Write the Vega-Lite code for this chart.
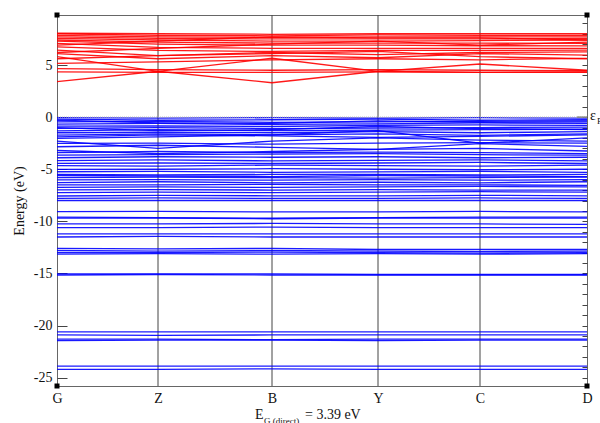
{
  "$schema": "https://vega.github.io/schema/vega-lite/v6.json",
  "width": 530,
  "height": 371,
  "autosize": "none",
  "padding": {"left": 57, "top": 15, "right": 13, "bottom": 37},
  "background": "white",
  "config": {"view": {"stroke": "#666", "strokeWidth": 1}, "font": "Liberation Serif"},
  "resolve": {"axis": {"y": "independent", "x": "independent"}},
  "datasets": {
    "kpath": [
      {"k": "G", "kx": 0}, {"k": "Z", "kx": 101}, {"k": "B", "kx": 215},
      {"k": "Y", "kx": 321}, {"k": "C", "kx": 423}, {"k": "D", "kx": 530}
    ],
    "bands": [
      {"b": "c01", "s": "c", "G": 3.4, "Z": 4.4, "B": 3.3, "Y": 4.4, "C": 4.3, "D": 4.35},
      {"b": "c02", "s": "c", "G": 5.8, "Z": 4.4, "B": 5.65, "Y": 4.4, "C": 5.1, "D": 4.5},
      {"b": "c03", "s": "c", "G": 4.35, "Z": 4.3, "B": 4.3, "Y": 4.35, "C": 4.3, "D": 4.3},
      {"b": "c04", "s": "c", "G": 4.65, "Z": 4.55, "B": 4.5, "Y": 4.55, "C": 4.5, "D": 4.45},
      {"b": "c05", "s": "c", "G": 5.15, "Z": 5.3, "B": 5.5, "Y": 5.6, "C": 5.5, "D": 5.63},
      {"b": "c06", "s": "c", "G": 6.1, "Z": 5.6, "B": 5.9, "Y": 5.7, "C": 6.1, "D": 5.95},
      {"b": "c07", "s": "c", "G": 6.43, "Z": 5.9, "B": 6.2, "Y": 6.0, "C": 6.2, "D": 6.27},
      {"b": "c08", "s": "c", "G": 6.75, "Z": 6.4, "B": 6.3, "Y": 6.4, "C": 6.4, "D": 6.43},
      {"b": "c09", "s": "c", "G": 7.07, "Z": 6.7, "B": 6.6, "Y": 6.6, "C": 6.6, "D": 6.6},
      {"b": "c10", "s": "c", "G": 7.3, "Z": 7.0, "B": 6.9, "Y": 6.9, "C": 6.85, "D": 6.84},
      {"b": "c11", "s": "c", "G": 7.4, "Z": 7.2, "B": 7.1, "Y": 7.1, "C": 7.1, "D": 7.07},
      {"b": "c12", "s": "c", "G": 7.55, "Z": 7.4, "B": 7.3, "Y": 7.3, "C": 7.35, "D": 7.4},
      {"b": "c13", "s": "c", "G": 7.7, "Z": 7.55, "B": 7.5, "Y": 7.5, "C": 7.5, "D": 7.55},
      {"b": "c14", "s": "c", "G": 7.85, "Z": 7.7, "B": 7.65, "Y": 7.7, "C": 7.7, "D": 7.7},
      {"b": "c15", "s": "c", "G": 8.0, "Z": 7.85, "B": 7.8, "Y": 7.9, "C": 7.85, "D": 7.85},
      {"b": "c16", "s": "c", "G": 8.05, "Z": 8.0, "B": 7.95, "Y": 8.0, "C": 8.0, "D": 8.0},
      {"b": "c17", "s": "c", "G": 6.9, "Z": 7.3, "B": 7.7, "Y": 7.6, "C": 7.6, "D": 7.4},
      {"b": "c18", "s": "c", "G": 6.2, "Z": 6.6, "B": 7.0, "Y": 7.3, "C": 6.9, "D": 7.2},
      {"b": "c19", "s": "c", "G": 5.6, "Z": 5.9, "B": 6.1, "Y": 6.3, "C": 5.8, "D": 5.6},
      {"b": "v01", "s": "v", "G": -0.05, "Z": -0.1, "B": -0.05, "Y": -0.1, "C": -0.05, "D": -0.1},
      {"b": "v02", "s": "v", "G": -0.2, "Z": -0.3, "B": -0.25, "Y": -0.2, "C": -0.3, "D": -0.25},
      {"b": "v03", "s": "v", "G": -0.45, "Z": -0.4, "B": -0.5, "Y": -0.45, "C": -0.4, "D": -0.35},
      {"b": "v04", "s": "v", "G": -0.67, "Z": -0.6, "B": -0.7, "Y": -0.65, "C": -0.55, "D": -0.6},
      {"b": "v05", "s": "v", "G": -0.86, "Z": -0.85, "B": -0.9, "Y": -0.8, "C": -0.75, "D": -0.8},
      {"b": "v06", "s": "v", "G": -1.08, "Z": -1.0, "B": -1.1, "Y": -1.05, "C": -1.0, "D": -0.95},
      {"b": "v07", "s": "v", "G": -1.31, "Z": -1.2, "B": -1.3, "Y": -1.25, "C": -1.2, "D": -1.15},
      {"b": "v08", "s": "v", "G": -1.5, "Z": -1.45, "B": -1.5, "Y": -1.4, "C": -1.5, "D": -1.4},
      {"b": "v09", "s": "v", "G": -1.72, "Z": -1.6, "B": -1.7, "Y": -1.6, "C": -1.75, "D": -1.6},
      {"b": "v10", "s": "v", "G": -2.04, "Z": -1.9, "B": -1.7, "Y": -1.3, "C": -2.5, "D": -2.0},
      {"b": "v11", "s": "v", "G": -2.3, "Z": -3.0, "B": -2.3, "Y": -2.0, "C": -2.2, "D": -2.3},
      {"b": "v12", "s": "v", "G": -2.52, "Z": -2.5, "B": -2.6, "Y": -2.5, "C": -2.45, "D": -2.5},
      {"b": "v13", "s": "v", "G": -2.84, "Z": -2.7, "B": -2.9, "Y": -3.1, "C": -2.55, "D": -2.8},
      {"b": "v14", "s": "v", "G": -3.41, "Z": -3.3, "B": -3.4, "Y": -3.35, "C": -3.4, "D": -3.5},
      {"b": "v15", "s": "v", "G": -3.64, "Z": -3.6, "B": -3.55, "Y": -3.5, "C": -3.6, "D": -3.65},
      {"b": "v16", "s": "v", "G": -3.9, "Z": -3.8, "B": -3.85, "Y": -3.8, "C": -3.9, "D": -3.85},
      {"b": "v17", "s": "v", "G": -4.18, "Z": -4.1, "B": -4.2, "Y": -4.15, "C": -4.1, "D": -4.2},
      {"b": "v18", "s": "v", "G": -4.44, "Z": -4.4, "B": -4.45, "Y": -4.4, "C": -4.35, "D": -4.45},
      {"b": "v19", "s": "v", "G": -4.66, "Z": -4.7, "B": -4.6, "Y": -4.65, "C": -4.7, "D": -4.6},
      {"b": "v20", "s": "v", "G": -5.01, "Z": -5.0, "B": -4.95, "Y": -5.0, "C": -5.05, "D": -5.0},
      {"b": "v21", "s": "v", "G": -5.24, "Z": -5.2, "B": -5.3, "Y": -5.25, "C": -5.2, "D": -5.3},
      {"b": "v22", "s": "v", "G": -5.5, "Z": -5.55, "B": -5.5, "Y": -5.5, "C": -5.55, "D": -5.5},
      {"b": "v23", "s": "v", "G": -5.81, "Z": -5.75, "B": -5.8, "Y": -5.85, "C": -5.8, "D": -5.75},
      {"b": "v24", "s": "v", "G": -6.03, "Z": -6.0, "B": -6.05, "Y": -6.0, "C": -6.05, "D": -6.0},
      {"b": "v25", "s": "v", "G": -6.29, "Z": -6.2, "B": -6.3, "Y": -6.25, "C": -6.3, "D": -6.2},
      {"b": "v26", "s": "v", "G": -6.51, "Z": -6.5, "B": -6.45, "Y": -6.5, "C": -6.5, "D": -6.55},
      {"b": "v27", "s": "v", "G": -6.74, "Z": -6.7, "B": -6.75, "Y": -6.7, "C": -6.65, "D": -6.7},
      {"b": "v28", "s": "v", "G": -6.99, "Z": -6.95, "B": -7.0, "Y": -6.95, "C": -7.0, "D": -7.0},
      {"b": "v29", "s": "v", "G": -7.25, "Z": -7.2, "B": -7.25, "Y": -7.2, "C": -7.15, "D": -7.2},
      {"b": "v30", "s": "v", "G": -7.57, "Z": -7.5, "B": -7.55, "Y": -7.55, "C": -7.5, "D": -7.55},
      {"b": "v31", "s": "v", "G": -7.79, "Z": -7.75, "B": -7.8, "Y": -7.8, "C": -7.75, "D": -7.8},
      {"b": "v32", "s": "v", "G": -8.0, "Z": -8.0, "B": -8.0, "Y": -8.0, "C": -8.0, "D": -8.0},
      {"b": "v33", "s": "v", "G": -9.07, "Z": -9.05, "B": -9.1, "Y": -9.1, "C": -9.05, "D": -9.1},
      {"b": "v34", "s": "v", "G": -9.6, "Z": -9.65, "B": -9.7, "Y": -9.65, "C": -9.6, "D": -9.6},
      {"b": "v35", "s": "v", "G": -9.7, "Z": -9.7, "B": -9.75, "Y": -9.7, "C": -9.7, "D": -9.7},
      {"b": "v36", "s": "v", "G": -10.25, "Z": -10.25, "B": -10.2, "Y": -10.25, "C": -10.25, "D": -10.3},
      {"b": "v37", "s": "v", "G": -10.6, "Z": -10.6, "B": -10.55, "Y": -10.6, "C": -10.6, "D": -10.6},
      {"b": "v38", "s": "v", "G": -11.2, "Z": -11.2, "B": -11.2, "Y": -11.2, "C": -11.2, "D": -11.2},
      {"b": "v39", "s": "v", "G": -11.5, "Z": -11.45, "B": -11.5, "Y": -11.5, "C": -11.5, "D": -11.5},
      {"b": "v40", "s": "v", "G": -12.6, "Z": -12.65, "B": -12.6, "Y": -12.7, "C": -12.7, "D": -12.7},
      {"b": "v41", "s": "v", "G": -12.8, "Z": -12.85, "B": -12.8, "Y": -12.85, "C": -12.9, "D": -12.85},
      {"b": "v42", "s": "v", "G": -13.0, "Z": -13.0, "B": -12.95, "Y": -13.0, "C": -13.05, "D": -13.0},
      {"b": "v43", "s": "v", "G": -13.15, "Z": -13.1, "B": -13.15, "Y": -13.1, "C": -13.15, "D": -13.1},
      {"b": "v44", "s": "v", "G": -15.05, "Z": -15.05, "B": -15.05, "Y": -15.1, "C": -15.1, "D": -15.1},
      {"b": "v45", "s": "v", "G": -15.15, "Z": -15.1, "B": -15.15, "Y": -15.15, "C": -15.15, "D": -15.15},
      {"b": "v46", "s": "v", "G": -20.6, "Z": -20.6, "B": -20.6, "Y": -20.6, "C": -20.6, "D": -20.6},
      {"b": "v47", "s": "v", "G": -20.9, "Z": -20.95, "B": -20.9, "Y": -20.9, "C": -20.9, "D": -20.9},
      {"b": "v48", "s": "v", "G": -21.3, "Z": -21.3, "B": -21.35, "Y": -21.3, "C": -21.3, "D": -21.3},
      {"b": "v49", "s": "v", "G": -21.45, "Z": -21.4, "B": -21.4, "Y": -21.45, "C": -21.4, "D": -21.4},
      {"b": "v50", "s": "v", "G": -23.9, "Z": -23.9, "B": -23.9, "Y": -23.9, "C": -23.9, "D": -23.9},
      {"b": "v51", "s": "v", "G": -24.2, "Z": -24.2, "B": -24.15, "Y": -24.2, "C": -24.2, "D": -24.2},
      {"b": "v52", "s": "v", "G": -0.3, "Z": -0.55, "B": -0.6, "Y": -0.35, "C": -0.5, "D": -0.45},
      {"b": "v53", "s": "v", "G": -1.0, "Z": -1.3, "B": -1.2, "Y": -0.9, "C": -1.1, "D": -1.2},
      {"b": "v54", "s": "v", "G": -1.9, "Z": -1.7, "B": -1.8, "Y": -1.95, "C": -1.85, "D": -1.7},
      {"b": "v55", "s": "v", "G": -5.6, "Z": -5.65, "B": -5.7, "Y": -5.6, "C": -5.65, "D": -5.7},
      {"b": "v56", "s": "v", "G": -3.2, "Z": -3.5, "B": -3.3, "Y": -3.1, "C": -3.0, "D": -3.25}
    ],
    "corners": [
      {"kx": 0, "e": 9.8}, {"kx": 530, "e": 9.8}, {"kx": 0, "e": -25.8}, {"kx": 530, "e": -25.8}
    ],
    "fermi": [{"kx": 520, "kx2": 530, "e": 0}],
    "bigtext": [
      {"t": "E", "kx": 198, "e": -28.97},
      {"t": "= 3.39 eV", "kx": 248, "e": -28.97},
      {"t": "ε", "kx": 533, "e": -0.3}
    ],
    "smalltext": [
      {"t": "G (direct)", "kx": 207, "e": -29.45},
      {"t": "F", "kx": 540, "e": -0.7}
    ]
  },
  "layer": [
    {
      "data": {"name": "kpath"},
      "transform": [{"filter": "datum.k != 'G' && datum.k != 'D'"}],
      "mark": {"type": "rule", "color": "#444", "strokeWidth": 1},
      "encoding": {
        "x": {
          "field": "kx", "type": "quantitative",
          "scale": {"domain": [0, 530], "nice": false, "zero": false},
          "axis": null
        }
      }
    },
    {
      "data": {"name": "bands"},
      "transform": [
        {"fold": ["G", "Z", "B", "Y", "C", "D"], "as": ["k", "e"]},
        {"lookup": "k", "from": {"data": {"name": "kpath"}, "key": "k", "fields": ["kx"]}}
      ],
      "mark": {"type": "line", "strokeWidth": 1.3, "opacity": 0.9},
      "encoding": {
        "x": {
          "field": "kx", "type": "quantitative",
          "axis": {
            "values": [0, 101, 215, 321, 423, 530],
            "labelExpr": "datum.value == 0 ? 'G' : datum.value == 101 ? 'Z' : datum.value == 215 ? 'B' : datum.value == 321 ? 'Y' : datum.value == 423 ? 'C' : 'D'",
            "ticks": false, "domain": false, "grid": false, "title": null,
            "labelFont": "Liberation Serif", "labelFontSize": 14, "labelColor": "#111",
            "labelPadding": 5, "labelFlush": false, "labelOverlap": false
          }
        },
        "y": {
          "field": "e", "type": "quantitative",
          "scale": {"domain": [-25.8, 9.8], "nice": false, "zero": false},
          "axis": {
            "values": [-25, -20, -15, -10, -5, 0, 5],
            "labelExpr": "toString(datum.value)",
            "tickSize": -10, "tickColor": "#444", "domain": false, "grid": false,
            "labelFont": "Liberation Serif", "labelFontSize": 14, "labelColor": "#111",
            "labelPadding": 15,
            "title": "Energy (eV)", "titleFont": "Liberation Serif", "titleFontSize": 14,
            "titleFontWeight": "normal", "titleColor": "#111", "titlePadding": 7
          }
        },
        "detail": {"field": "b"},
        "color": {"field": "s", "type": "nominal", "scale": {"domain": ["c", "v"], "range": ["#ff0000", "#0000ff"]}, "legend": null}
      }
    },
    {
      "data": {"name": "fermi"},
      "mark": {"type": "rule", "color": "#aaa", "strokeDash": [1, 1], "strokeWidth": 1},
      "encoding": {
        "y": {"field": "e", "type": "quantitative", "axis": null}
      }
    },
    {
      "data": {"name": "fermi"},
      "mark": {"type": "rule", "color": "#888", "strokeWidth": 1.5},
      "encoding": {
        "x": {"field": "kx", "type": "quantitative", "axis": null},
        "x2": {"field": "kx2"},
        "y": {"field": "e", "type": "quantitative", "axis": null}
      }
    },
    {
      "data": {"name": "corners"},
      "mark": {"type": "point", "shape": "square", "filled": true, "color": "black", "size": 25, "opacity": 1},
      "encoding": {
        "x": {"field": "kx", "type": "quantitative", "axis": null},
        "y": {
          "field": "e", "type": "quantitative",
          "axis": {
            "values": [-25, -24, -23, -22, -21, -20, -19, -18, -17, -16, -15, -14, -13, -12, -11, -10, -9, -8, -7, -6, -5, -4, -3, -2, -1, 0, 1, 2, 3, 4, 5, 6, 7, 8, 9],
            "tickSize": -5, "tickColor": "#444", "labels": false, "domain": false, "grid": false, "title": null
          }
        }
      }
    },
    {
      "data": {"name": "bigtext"},
      "mark": {"type": "text", "align": "left", "baseline": "alphabetic", "font": "Liberation Serif", "fontSize": 14, "color": "#111"},
      "encoding": {
        "x": {"field": "kx", "type": "quantitative", "axis": null},
        "y": {"field": "e", "type": "quantitative", "axis": null},
        "text": {"field": "t"}
      }
    },
    {
      "data": {"name": "smalltext"},
      "mark": {"type": "text", "align": "left", "baseline": "alphabetic", "font": "Liberation Serif", "fontSize": 9, "color": "#111"},
      "encoding": {
        "x": {"field": "kx", "type": "quantitative", "axis": null},
        "y": {"field": "e", "type": "quantitative", "axis": null},
        "text": {"field": "t"}
      }
    }
  ]
}
